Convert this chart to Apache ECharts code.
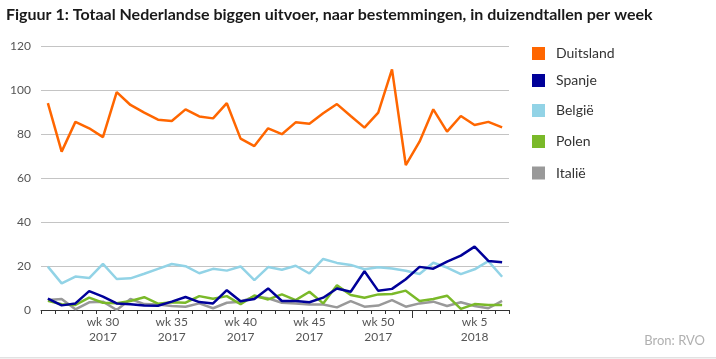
<!DOCTYPE html>
<html>
<head>
<meta charset="utf-8">
<script src="https://cdn.jsdelivr.net/npm/echarts@6/dist/echarts.min.js"></script>
<style>html,body{margin:0;padding:0;background:#fff;}#c{width:716px;height:359px;}</style>
</head>
<body>
<div id="c"></div>
<script>
const weeks = [26,27,28,29,30,31,32,33,34,35,36,37,38,39,40,41,42,43,44,45,46,47,48,49,50,51,52,1,2,3,4,5,6,7];
const years = [2017,2017,2017,2017,2017,2017,2017,2017,2017,2017,2017,2017,2017,2017,2017,2017,2017,2017,2017,2017,2017,2017,2017,2017,2017,2017,2017,2018,2018,2018,2018,2018,2018,2018];
const labeledWeeks = [30,35,40,45,50,5];
const seriesNames = ['Duitsland','Spanje','België','Polen','Italië'];
const duitsland = [94.0,72.0,85.5,82.6,78.6,99.0,93.2,89.7,86.5,85.9,91.2,88.0,87.1,94.0,77.9,74.5,82.6,79.9,85.3,84.7,89.4,93.6,88.2,82.9,89.7,109.4,65.9,76.5,91.2,81.1,88.2,84.1,85.5,83.0];
const spanje = [5.2,2.1,3.0,8.6,6.1,3.0,2.6,2.1,1.9,3.8,5.9,3.6,3.0,9.0,4.0,5.0,9.8,4.1,4.1,3.5,5.6,9.8,8.3,17.6,8.7,9.6,14.0,19.6,18.8,22.0,24.7,28.8,22.3,21.7];
const belgie = [19.7,12.1,15.2,14.5,21.0,14.1,14.4,16.5,18.7,20.9,19.9,16.7,18.7,17.9,19.8,13.6,19.5,18.3,20.1,16.6,23.2,21.4,20.5,18.5,19.4,18.9,17.8,16.4,21.5,19.3,16.3,18.5,22.2,15.1];
const polen = [4.2,2.6,2.3,5.6,3.3,3.1,4.1,5.8,2.9,3.5,3.3,6.3,5.1,6.3,2.6,6.6,4.8,7.1,4.5,8.3,3.0,11.2,6.8,5.6,7.1,7.3,8.8,4.1,5.0,6.5,0.5,2.7,2.3,2.3];
const italie = [4.5,5.0,0.3,3.5,3.8,0.0,5.0,2.7,2.5,1.8,1.5,3.0,0.8,3.3,3.8,6.1,5.3,3.3,3.0,2.5,2.5,1.2,4.0,1.5,2.0,4.5,1.5,3.0,3.8,1.8,3.5,1.8,0.8,4.1];
const yearBoundaryIndex = 27;

const categories = weeks.map((w, i) => 'wk ' + w + '\n' + years[i]);
const colors = ['#ff6600','#000099','#92d3e6','#7ab929','#999999'];
const values = [duitsland, spanje, belgie, polen, italie];
const zs = [3,6,2,4,1];
const legendTops = [46.5,73.5,103.5,134.5,166];

const FONT = 'Lato, "Noto Sans", sans-serif';
const chart = echarts.init(document.getElementById('c'), null, {renderer:'canvas'});
chart.setOption({
  animation:false,
  backgroundColor:'#fff',
  title:{
    text:'Figuur 1: Totaal Nederlandse biggen uitvoer, naar bestemmingen, in duizendtallen per week',
    left:6, top:7, padding:0,
    textStyle:{fontFamily:FONT, fontWeight:'bold', fontSize:16, color:'#1a1a1a'}
  },
  legend: seriesNames.map((n, i) => ({
    data:[n], orient:'vertical', left:532, top:legendTops[i], padding:0,
    icon:'rect', itemWidth:13, itemHeight:13,
    itemStyle:{borderWidth:0},
    selectedMode:false,
    textStyle:{fontFamily:FONT, fontSize:14, color:'#333', padding:[0,0,0,6]}
  })),
  grid:{left:41, right:207, top:46, bottom:49, containLabel:false},
  xAxis:[{
    type:'category', data:categories, boundaryGap:true,
    axisLine:{lineStyle:{color:'#333', width:1}},
    axisTick:{show:true, interval:0, length:4, lineStyle:{color:'#333'}},
    axisLabel:{
      interval:(idx) => labeledWeeks.indexOf(weeks[idx]) >= 0,
      fontFamily:FONT, fontSize:12, color:'#555', lineHeight:15, margin:5
    },
    splitLine:{show:false}
  },{
    type:'value', min:0, max:weeks.length, position:'bottom',
    axisLine:{show:false},
    axisTick:{show:true, customValues:[yearBoundaryIndex], length:8, lineStyle:{color:'#333'}},
    axisLabel:{show:false},
    splitLine:{show:false}
  }],
  yAxis:{
    type:'value', min:0, max:120, interval:20,
    axisLine:{show:false}, axisTick:{show:false},
    axisLabel:{fontFamily:FONT, fontSize:12, color:'#555', margin:10},
    splitLine:{lineStyle:{color:'#c4c4c4', width:1}}
  },
  series: seriesNames.map((n, i) => ({
    name:n, type:'line', xAxisIndex:0, data:values[i], symbol:'none', z:zs[i],
    lineStyle:{color:colors[i], width:2.5}, itemStyle:{color:colors[i]}
  })),
  graphic:[
    {type:'text', right:11, top:334, style:{text:'Bron: RVO', fontFamily:FONT, fontSize:13, fill:'#b0b0b0'}},
    {type:'rect', left:0, top:357, shape:{width:716, height:1.5}, style:{fill:'#e2e2e2'}}
  ]
});
</script>
</body>
</html>
